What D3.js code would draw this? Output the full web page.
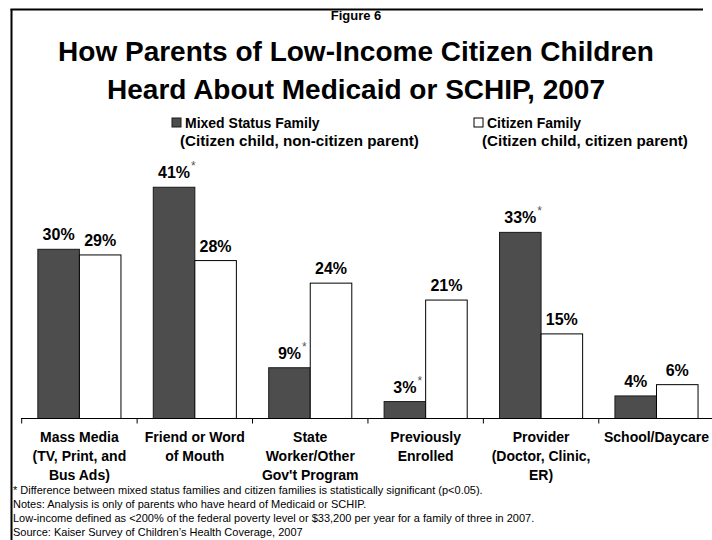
<!DOCTYPE html>
<html>
<head>
<meta charset="utf-8">
<script src="https://cdn.jsdelivr.net/npm/d3@7"></script>
<style>
  html, body { margin: 0; padding: 0; background: #fff; }
  svg { display: block; font-family: "Liberation Sans", Arial, Helvetica, sans-serif; }
</style>
</head>
<body>
<svg id="chart" width="712" height="540"></svg>
<script>
// Source categories (each entry is the list of lines shown under the axis)
const categories = ["Mass Media", "Friend or Word of Mouth", "State Worker/Other Gov't Program",
                    "Previously Enrolled", "Provider", "School/Daycare"];
const categoryLines = [
  ["Mass Media", "(TV, Print, and", "Bus Ads)"],
  ["Friend or Word", "of Mouth"],
  ["State", "Worker/Other", "Gov't Program"],
  ["Previously", "Enrolled"],
  ["Provider", "(Doctor, Clinic,", "ER)"],
  ["School/Daycare"]
];
const seriesNames = ["Mixed Status Family", "Citizen Family"];
const seriesSubtitles = ["(Citizen child, non-citizen parent)", "(Citizen child, citizen parent)"];
// Percent of parents hearing about Medicaid/SCHIP from each source
const mixedStatus = [30, 41, 9, 3, 33, 4];
const citizen = [29, 28, 24, 21, 15, 6];
// Statistically significant differences (flagged on the mixed-status bar)
const significant = [false, true, true, true, true, false];
const footnotes = [
  "* Difference between mixed status families and citizen families is statistically significant (p<0.05).",
  "Notes: Analysis is only of parents who have heard of Medicaid or SCHIP.",
  "Low-income defined as <200% of the federal poverty level or $33,200 per year for a family of three in 2007.",
  "Source: Kaiser Survey of Children\u2019s Health Coverage, 2007"
];

const svg = d3.select("#chart");
const fills = ["#4d4d4d", "#ffffff"];
const strokes = ["#1a1a1a", "#000000"];

// Frame
svg.append("line").attr("x1", 11.5).attr("x2", 11.5).attr("y1", 9).attr("y2", 540)
  .attr("stroke", "#000").attr("stroke-width", 2);
svg.append("line").attr("x1", 10.5).attr("x2", 703).attr("y1", 9.5).attr("y2", 9.5)
  .attr("stroke", "#000").attr("stroke-width", 2);

// Titles
svg.append("text").attr("x", 356).attr("y", 20).attr("text-anchor", "middle")
  .attr("font-size", 13).attr("font-weight", "bold").text("Figure 6");
const titleLines = ["How Parents of Low-Income Citizen Children", "Heard About Medicaid or SCHIP, 2007"];
svg.append("g").selectAll("text").data(titleLines).join("text")
  .attr("x", 356).attr("y", (d, i) => 61 + i * 38)
  .attr("text-anchor", "middle").attr("font-size", 28).attr("font-weight", "bold")
  .text(d => d);

// Scales
const baseline = 418.5;
const x = d3.scaleBand().domain(categories).range([21.7, 714.2]).paddingInner(0.28).paddingOuter(0.14);
const xs = d3.scaleBand().domain(seriesNames).range([0, x.bandwidth()]);
const y = d3.scaleLinear().domain([0, 30]).range([baseline, 249.3]);

const rows = categories.map((c, i) => ({
  cat: c, vals: [mixedStatus[i], citizen[i]], sig: significant[i]
}));

// Bars
const groups = svg.append("g").selectAll("g").data(rows).join("g")
  .attr("transform", d => `translate(${x(d.cat)},0)`);
groups.selectAll("rect").data(d => d.vals.map((v, j) => ({ v, s: seriesNames[j], j })))
  .join("rect")
  .attr("x", d => xs(d.s)).attr("width", xs.bandwidth())
  .attr("y", d => y(d.v)).attr("height", d => baseline - y(d.v))
  .attr("fill", d => fills[d.j]).attr("stroke", d => strokes[d.j]).attr("stroke-width", 1);

// Value labels
groups.each(function (d) {
  const g = d3.select(this);
  d.vals.forEach((v, j) => {
    const cx = xs(seriesNames[j]) + xs.bandwidth() / 2;
    const t = g.append("text").attr("x", cx).attr("y", y(v) - 9)
      .attr("text-anchor", "middle").attr("font-size", 16).attr("font-weight", "bold")
      .text(v + "%");
    if (j === 0 && d.sig) {
      const w = t.node().getComputedTextLength();
      g.append("text").attr("x", cx + w / 2 + 1).attr("y", y(v) - 17)
        .attr("font-size", 12).attr("fill", "#555").text("*");
    }
  });
});

// Axis
const axisG = svg.append("g");
axisG.append("line").attr("x1", 21).attr("x2", 712).attr("y1", baseline).attr("y2", baseline)
  .attr("stroke", "#000").attr("stroke-width", 1);
const gap = x.step() * x.paddingInner() / 2;
axisG.selectAll("line.tick").data(categories).join("line").attr("class", "tick")
  .attr("x1", d => x(d) - gap).attr("x2", d => x(d) - gap)
  .attr("y1", baseline).attr("y2", baseline + 5)
  .attr("stroke", "#000").attr("stroke-width", 1);

// Category labels
const catG = svg.append("g").selectAll("text").data(categories).join("text")
  .attr("text-anchor", "middle").attr("font-size", 14).attr("font-weight", "bold");
catG.each(function (d, i) {
  const cx = x(d) + x.bandwidth() / 2;
  d3.select(this).selectAll("tspan").data(categoryLines[i]).join("tspan")
    .attr("x", cx).attr("y", (l, k) => 442 + k * 19).text(l => l);
});

// Legend
const legendX = [172, 474];
const legend = svg.append("g").selectAll("g").data(seriesNames).join("g");
legend.append("rect")
  .attr("x", (d, i) => legendX[i]).attr("y", 118).attr("width", 9).attr("height", 9)
  .attr("fill", (d, i) => fills[i]).attr("stroke", (d, i) => strokes[i]).attr("stroke-width", 1);
legend.append("text")
  .attr("x", (d, i) => legendX[i] + 13).attr("y", 128)
  .attr("font-size", 14).attr("font-weight", "bold").text(d => d);
legend.append("text")
  .attr("x", (d, i) => legendX[i] + 8).attr("y", 146)
  .attr("font-size", 15.2).attr("font-weight", "bold").text((d, i) => seriesSubtitles[i]);

// Footnotes
svg.append("g").selectAll("text").data(footnotes).join("text")
  .attr("x", 13).attr("y", (d, i) => 494 + i * 14)
  .attr("font-size", 11).attr("fill", "#000").text(d => d);
</script>
</body>
</html>
